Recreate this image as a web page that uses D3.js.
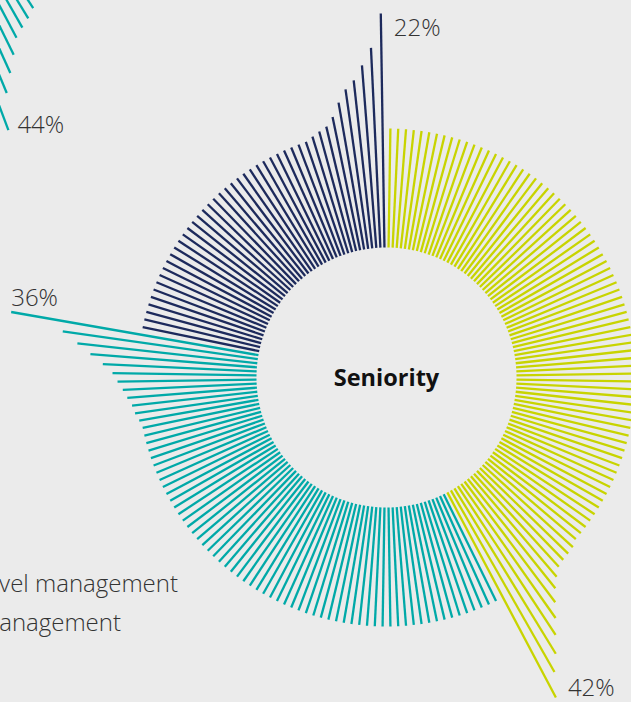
<!DOCTYPE html>
<html>
<head>
<meta charset="utf-8">
<script src="https://cdn.jsdelivr.net/npm/d3@7"></script>
<style>
  body { margin: 0; background: #ebebeb; overflow: hidden; }
  svg { display: block; }
  .pct { font-family: "Open Sans", sans-serif; font-weight: 300; font-size: 24px; fill: #333; }
  .legend { font-family: "Open Sans", sans-serif; font-weight: 300; font-size: 24px; fill: #333; }
  .title { font-family: "Open Sans", sans-serif; font-weight: 700; font-size: 23.5px; fill: #111; }
</style>
</head>
<body>
<div id="plotdiv"></div>
<script>
// Size of the figure
var outerWidth = 631;
var outerHeight = 702;
// Centre and hole of the main ring
var centreX = 386.5, centreY = 377.5;
var innerRadius = 130;
// Total number of spokes round the ring
var lineCount = 200;

// Categories, shares and colours (legend is cut off on the left)
var categories = ["Senior-level management", "Middle management"];
var shares = ["42%", "36%", "22%"];
var colours = ["#c8d400", "#00a9a8", "#1d2a5c"];

// Spoke lengths, one value per spoke
var yellowLengths = [
  119,119,119,119,119,119,119,119,119,119,119,119,119,119,119,119,119,119,119,119,
  119,119,119,119,119,119,119,119,119,119,119,119,119,119,119,119,119,119,119,119,
  119,119,119,119,119,119,119,119,119,119,119,119,119,119,119,119,119,119,119,119,
  119,119,119,119,119,119,119,119,119,119,119,119,119,
  122,123,124,126,132,140,151,164,178,194,209,232
];
var tealLengths = [
  119,119,119,119,119,119,119,119,119,119,119,119,119,119,119,119,119,119,119,119,
  119,119,119,119,119,119,119,119,119,119,119,119,119,119,119,119,119,119,119,119,
  119,119,119,119,119,119,119,119,119,119,119,119,119,119,119,119,119,119,119,
  121,124,126,130,134,139,144,154,167,181,197,251
];
var navyLengths = [
  119,119,119,119,119,119,119,119,119,119,119,119,119,119,119,119,119,119,119,119,
  119,119,119,119,119,119,119,119,119,119,119,119,119,119,
  122,125,128,136,149,161,169,183,200,234
];

// Neighbouring chart (top left) - only the tail of its first group shows
var otherShare = "44%";
var otherFirstIndex = 81;
var otherTailLengths = [174,180,185,191,205,220,237,272];
var otherCentreX = -133.7, otherCentreY = -246;

// Build one record per spoke
var spokes = [];
[yellowLengths, tealLengths, navyLengths].forEach(function(arr, g) {
  arr.forEach(function(v) {
    spokes.push({group: g, value: v, index: spokes.length});
  });
});

// Scales
var angleScale = d3.scaleLinear()
  .domain([0, lineCount])
  .range([0, 2 * Math.PI]);
var radiusScale = d3.scaleLinear()
  .domain([0, 250])
  .range([innerRadius, innerRadius + 250]);

var radialLine = d3.lineRadial()
  .angle(function(d) { return d[0]; })
  .radius(function(d) { return d[1]; });

function spokePath(d) {
  var a = angleScale(d.index + 0.5);
  return radialLine([[a, radiusScale(0)], [a, radiusScale(d.value)]]);
}
function spokeEnd(d) {
  return d3.pointRadial(angleScale(d.index + 0.5), radiusScale(d.value));
}

var vis = d3.select("#plotdiv").append("svg")
  .attr("width", outerWidth)
  .attr("height", outerHeight);

// Other chart
var gOther = vis.append("g")
  .attr("transform", "translate(" + otherCentreX + "," + otherCentreY + ")");
var otherSpokes = otherTailLengths.map(function(v, i) {
  return {group: 1, value: v, index: otherFirstIndex + i};
});
gOther.selectAll("path").data(otherSpokes).enter().append("path")
  .attr("d", spokePath)
  .attr("stroke", colours[1])
  .attr("stroke-width", 2.3)
  .attr("fill", "none");
var otherEnd = spokeEnd(otherSpokes[otherSpokes.length - 1]);
gOther.append("text")
  .attr("class", "pct")
  .attr("x", otherEnd[0] + 9)
  .attr("y", otherEnd[1] + 3)
  .text(otherShare);

// Main chart
var g = vis.append("g")
  .attr("transform", "translate(" + centreX + "," + centreY + ")");

g.selectAll("path").data(spokes).enter().append("path")
  .attr("d", spokePath)
  .attr("stroke", function(d) { return colours[d.group]; })
  .attr("stroke-width", 2.3)
  .attr("fill", "none");

// Share labels next to the longest spoke of each group
var labelOffsets = [[12, -1], [0, -6], [13, 22]];
[0, 1, 2].forEach(function(grp) {
  var grpSpokes = spokes.filter(function(d) { return d.group === grp; });
  var last = grpSpokes[grpSpokes.length - 1];
  var p = spokeEnd(last);
  g.append("text")
    .attr("class", "pct")
    .attr("x", p[0] + labelOffsets[grp][0])
    .attr("y", p[1] + labelOffsets[grp][1])
    .text(shares[grp]);
});

g.append("text")
  .attr("class", "title")
  .attr("text-anchor", "middle")
  .attr("y", 8.5)
  .text("Seniority");

// Legend (mostly outside the frame)
vis.selectAll(".legend").data(categories).enter().append("text")
  .attr("class", "legend")
  .attr("text-anchor", "end")
  .attr("x", function(d, i) { return i === 0 ? 178 : 121; })
  .attr("y", function(d, i) { return 592 + i * 39; })
  .text(function(d) { return d; });
</script>
</body>
</html>
